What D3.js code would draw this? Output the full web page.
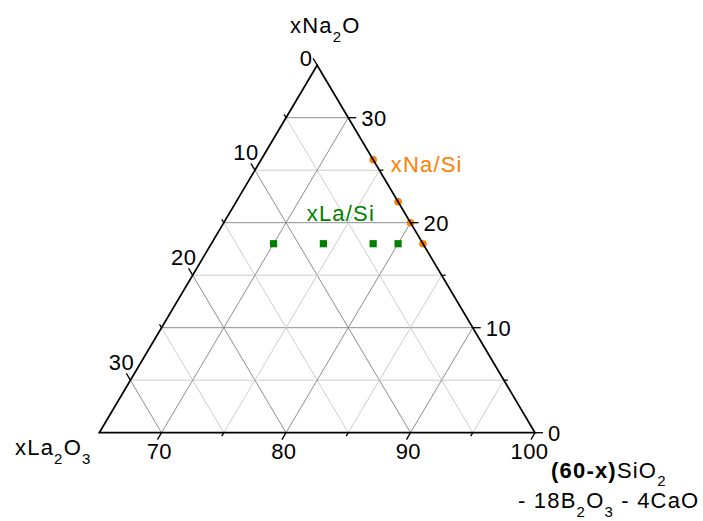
<!DOCTYPE html>
<html><head><meta charset="utf-8">
<script src="https://cdn.jsdelivr.net/npm/d3@7"></script>
<style>body{margin:0;background:#fff} svg{display:block} text{font-family:"Liberation Sans",Arial,sans-serif;letter-spacing:1.2px} text.tl{letter-spacing:0.4px}</style>
</head><body><svg id="c" width="703" height="521"></svg>
<script>
// ---- data ----
const naTicks = [0, 10, 20, 30];          // xNa2O (right axis)
const laTicks = [0, 10, 20, 30];          // xLa2O3 (left axis)
const siTicks = [70, 80, 90, 100];        // SiO2 (bottom axis)
const gridSteps = [5, 10, 15, 20, 25, 30];
const naSeriesNa = [26, 22, 20, 18];      // xNa/Si : Na2O
const naSeriesLa = [0, 0, 0, 0];          //          La2O3
const laSeriesNa = [18, 18, 18, 18];      // xLa/Si : Na2O
const laSeriesLa = [12, 8, 4, 2];         //          La2O3
const orange = "#ff8000", green = "#008000";

const svg = d3.select("#c");
const xS = d3.scaleLinear().domain([65, 100]).range([99.3, 535]);
const yS = d3.scaleLinear().domain([0, 35]).range([432.7, 65.2]);
function P(na, la) { const si = 100 - na - la; return [xS(si + na / 2), yS(na)]; }

const apexP = P(35, 0), leftP = P(0, 35), rightP = P(0, 0);
function unit(a, b) { const dx = b[0] - a[0], dy = b[1] - a[1], l = Math.hypot(dx, dy); return [dx / l, dy / l]; }
const dirLa = unit(rightP, apexP);       // up-left, parallel to right edge
const dirSi = unit(apexP, leftP);        // down-left, parallel to left edge
const dirNa = [1, 0];

const line = d3.line();
const g = svg.append("g");

// grid
gridSteps.forEach(c => {
  const major = c % 10 === 0;
  const col = major ? "#8e8e8e" : "#cdcdcd";
  const segs = [
    [P(c, 35 - c), P(c, 0)],            // constant Na
    [P(0, c), P(35 - c, c)],            // constant La
    [P(0, c), P(c, 0)]                  // constant Si = 100-c
  ];
  segs.forEach(s => g.append("path").attr("d", line(s)).attr("stroke", col).attr("stroke-width", 1).attr("fill", "none"));
});

// points
naSeriesNa.forEach((na, i) => {
  const p = P(na, naSeriesLa[i]);
  g.append("circle").attr("cx", p[0]).attr("cy", p[1]).attr("r", 3.8).attr("fill", orange);
});
laSeriesNa.forEach((na, i) => {
  const p = P(na, laSeriesLa[i]);
  g.append("rect").attr("x", p[0] - 3.6).attr("y", p[1] - 3.6).attr("width", 7.2).attr("height", 7.2).attr("fill", green);
});

// outline
g.append("path").attr("d", line([apexP, leftP, rightP]) + "Z").attr("fill", "none").attr("stroke", "#000").attr("stroke-width", 1.7).attr("stroke-linejoin", "miter");

// ticks
function tick(p, d, len) {
  g.append("path").attr("d", line([p, [p[0] + d[0] * len, p[1] + d[1] * len]])).attr("stroke", "#000").attr("stroke-width", 1.3);
}
[0, 5, 10, 15, 20, 25, 30].forEach(c => {
  const L = c % 10 === 0 ? 8 : 4;
  tick(P(c, 0), dirNa, L);
  tick(P(35 - c, c), dirLa, L);
  tick(P(0, c), dirSi, L);
});

const fs = 22;
// tick labels
naTicks.forEach(c => {
  const p = P(c, 0);
  g.append("text").attr("class", "tl").attr("x", p[0] + 13).attr("y", p[1]).attr("dy", "0.36em").attr("font-size", fs).text(c);
});
laTicks.forEach(c => {
  const p = P(35 - c, c);
  const off = c === 0 ? [-11, -7] : [-9, -18.5];
  g.append("text").attr("class", "tl").attr("x", p[0] + off[0]).attr("y", p[1] + off[1]).attr("dy", "0.36em").attr("text-anchor", "middle").attr("font-size", fs).text(c);
});
siTicks.forEach(s => {
  const off = s === 100 ? -5.5 : -2.2;
  g.append("text").attr("class", "tl").attr("x", xS(s) + off).attr("y", 459).attr("text-anchor", "middle").attr("font-size", fs).text(s);
});

// axis titles
function sub(t, parts, sh) {
  let shift = 0;
  parts.forEach(([s, type]) => {
    const ts = t.append("tspan").text(s);
    if (type === "sub") { ts.attr("font-size", 15).attr("dy", sh - shift); shift = sh; }
    else { ts.attr("dy", -shift); shift = 0; if (type === "bold") ts.attr("font-weight", "bold"); }
  });
}
sub(g.append("text").attr("x", 290).attr("y", 33).attr("font-size", fs), [["xNa"], ["2", "sub"], ["O"]], 9);
sub(g.append("text").attr("x", 15).attr("y", 455).attr("font-size", fs), [["xLa"], ["2", "sub"], ["O"], ["3", "sub"]], 9);
sub(g.append("text").attr("x", 551).attr("y", 478).attr("font-size", fs), [["(60-x)", "bold"], ["SiO"], ["2", "sub"]], 8);
sub(g.append("text").attr("x", 518).attr("y", 507.5).attr("font-size", fs), [["- 18B"], ["2", "sub"], ["O"], ["3", "sub"], [" - 4CaO"]], 9);

// series labels
g.append("text").attr("x", 390.7).attr("y", 171.5).attr("font-size", fs).attr("fill", orange).text("xNa/Si");
g.append("text").attr("x", 306.7).attr("y", 221).attr("font-size", fs).attr("fill", green).text("xLa/Si");
</script></body></html>
